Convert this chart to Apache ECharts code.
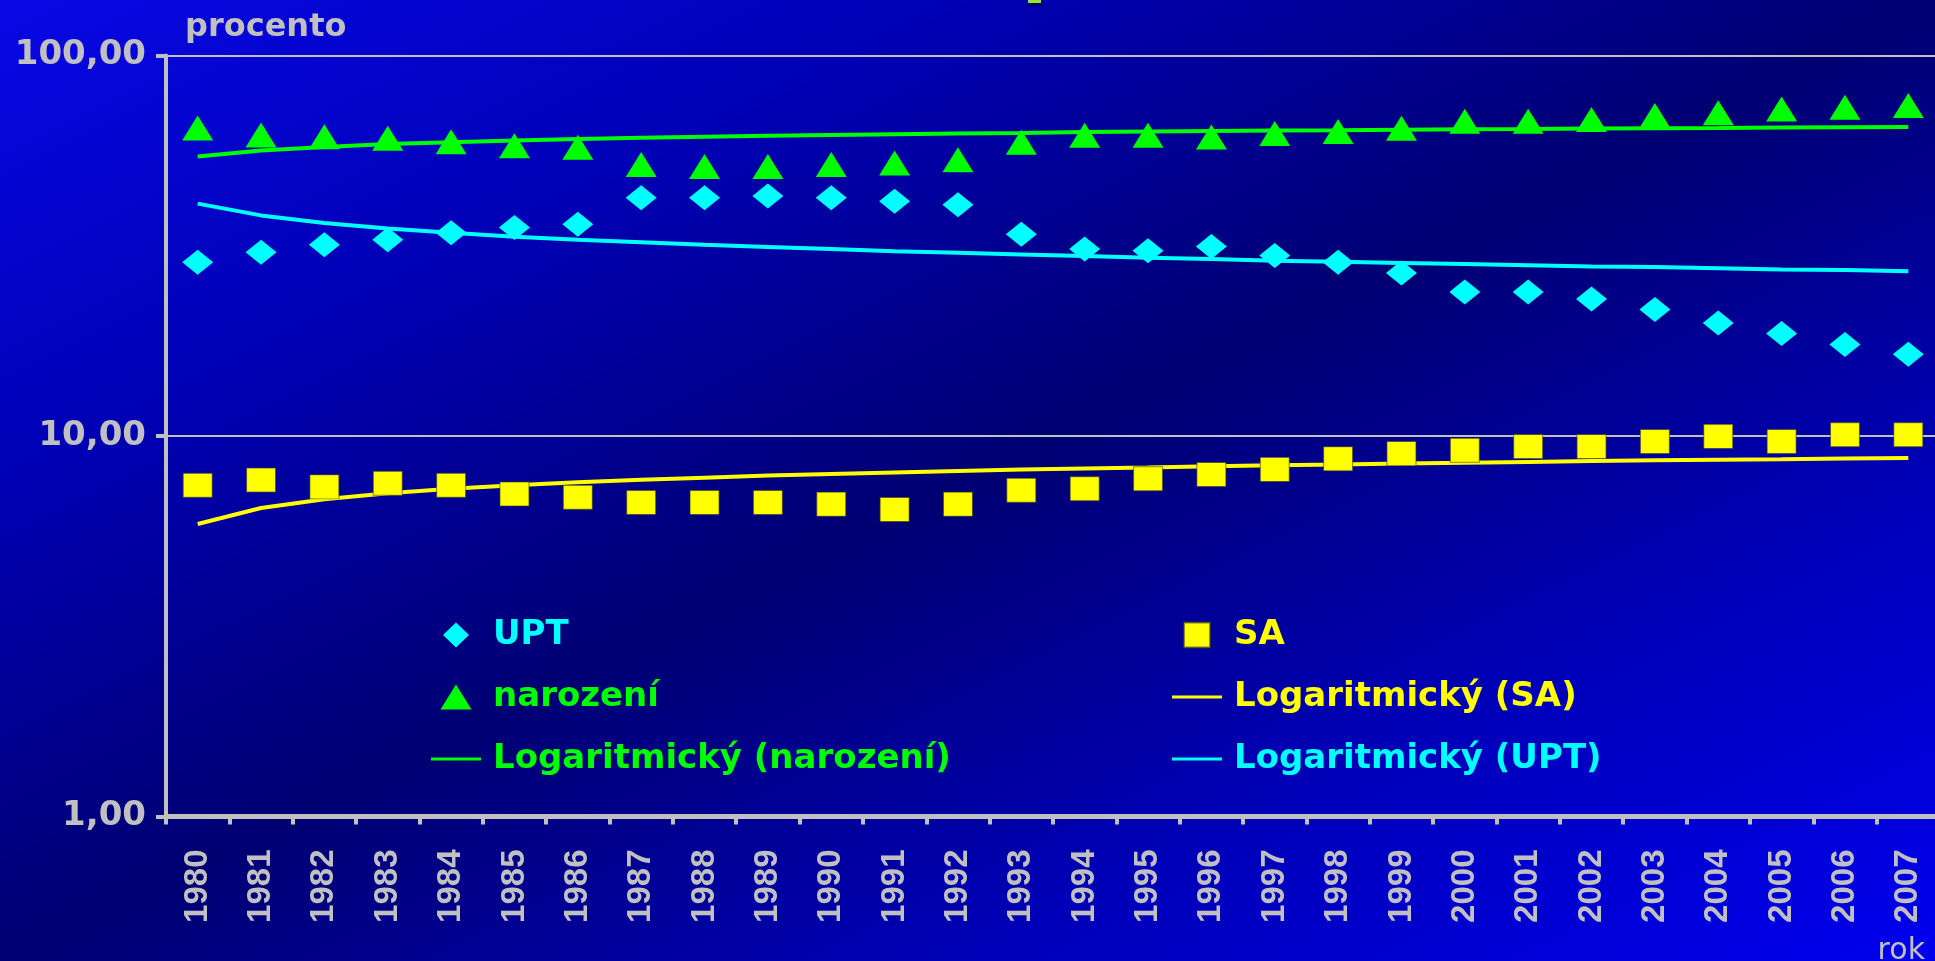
<!DOCTYPE html>
<html>
<head>
<meta charset="utf-8">
<script src="https://cdn.jsdelivr.net/npm/echarts@6/dist/echarts.min.js"></script>
<style>
  html, body { margin: 0; padding: 0; }
  #chart { width: 1935px; height: 961px; }
</style>
</head>
<body>
<div id="chart"></div>
<script>
const years = ['1980', '1981', '1982', '1983', '1984', '1985', '1986', '1987', '1988', '1989',
  '1990', '1991', '1992', '1993', '1994', '1995', '1996', '1997', '1998', '1999',
  '2000', '2001', '2002', '2003', '2004', '2005', '2006', '2007'];

const upt = [28.6, 30.4, 31.8, 32.8, 34.2, 35.3, 36.0, 42.3, 42.3, 42.7, 42.3, 41.4, 40.5, 33.9,
  31.0, 30.7, 31.5, 29.8, 28.6, 26.8, 23.9, 23.9, 22.9, 21.5, 19.8, 18.6, 17.4, 16.4];
const sa = [7.42, 7.66, 7.35, 7.51, 7.42, 7.04, 6.90, 6.69, 6.69, 6.69, 6.62, 6.41, 6.62, 7.20,
  7.27, 7.72, 7.92, 8.17, 8.71, 8.99, 9.17, 9.38, 9.38, 9.67, 9.98, 9.67, 10.08, 10.08];
const narozeni = [64.5, 61.8, 61.2, 60.6, 59.3, 57.9, 57.4, 51.7, 51.1, 51.1, 51.7, 52.2, 53.2, 59.2,
  61.7, 61.7, 61.1, 62.4, 63.1, 64.4, 67.2, 67.2, 67.9, 69.5, 70.7, 72.3, 73.1, 73.9];

// trend lines
const trendNarozeni = [54.3, 56.3, 57.5, 58.5, 59.2, 59.8, 60.3, 60.8, 61.2, 61.5, 61.8, 62.1, 62.4, 62.6,
  62.9, 63.1, 63.3, 63.5, 63.6, 63.8, 64.0, 64.1, 64.3, 64.4, 64.5, 64.7, 64.8, 64.9];
const trendUpt = [40.8, 38.0, 36.3, 35.1, 34.2, 33.4, 32.8, 32.3, 31.8, 31.4, 31.0, 30.6, 30.3, 30.0,
  29.7, 29.4, 29.2, 28.9, 28.7, 28.5, 28.3, 28.1, 27.9, 27.8, 27.6, 27.4, 27.3, 27.1];
const trendSa = [5.87, 6.47, 6.82, 7.07, 7.27, 7.42, 7.56, 7.67, 7.77, 7.87, 7.95, 8.02, 8.09, 8.16,
  8.22, 8.27, 8.33, 8.38, 8.42, 8.47, 8.51, 8.55, 8.59, 8.63, 8.66, 8.69, 8.73, 8.76];

const yTickLabels = ['1,00', '10,00', '100,00'];

const GREY = '#c0c0c0';
const CYAN = '#00ffff';
const GREEN = '#00ff00';
const YELLOW = '#ffff00';
const BOLD_FONT = 'DejaVu Sans';

// legend icons
const ICON_LINE = 'path://M0,0 H50 V3 H0 Z';
const ICON_DIAMOND = 'path://M13,0 L26,12.5 L13,25 L0,12.5 Z';
const ICON_TRIANGLE = 'path://M15.5,0 L31,25 L0,25 Z';
const ICON_SQUARE = 'path://M0,0 H24 V23 H0 Z';

const chart = echarts.init(document.getElementById('chart'));

const legendText = (color) => ({
  color,
  fontFamily: BOLD_FONT,
  fontWeight: 'bold',
  fontSize: 34,
  lineHeight: 34,
  padding: [0, 0, 0, 7],
});

const legendItem = (name, icon, color) => ({ name, icon, textStyle: legendText(color) });

const legendBase = {
  orient: 'vertical',
  top: 613,
  itemWidth: 50,
  itemHeight: 25,
  itemGap: 28,
  symbolKeepAspect: true,
  selectedMode: false,
};

chart.setOption({
  animation: false,
  backgroundColor: new echarts.graphic.LinearGradient(0, 0, 0.396, 1.604, [
    { offset: 0, color: '#0808e6' },
    { offset: 0.25, color: '#0000b4' },
    { offset: 0.5, color: '#000072' },
    { offset: 0.75, color: '#0000b8' },
    { offset: 1, color: '#0000ee' },
  ]),
  grid: {
    left: 166, right: -5, top: 55.5, bottom: 144.5,
    containLabel: false,
    outerBoundsMode: 'none',
  },
  legend: [
    {
      ...legendBase,
      left: 426,
      data: [
        legendItem('UPT', ICON_DIAMOND, CYAN),
        legendItem('narození', ICON_TRIANGLE, GREEN),
        legendItem('Logaritmický (narození)', ICON_LINE, GREEN),
      ],
    },
    {
      ...legendBase,
      left: 1167,
      data: [
        legendItem('SA', ICON_SQUARE, YELLOW),
        legendItem('Logaritmický (SA)', ICON_LINE, YELLOW),
        legendItem('Logaritmický (UPT)', ICON_LINE, CYAN),
      ],
    },
  ],
  xAxis: {
    type: 'category',
    data: years,
    boundaryGap: true,
    axisLine: { lineStyle: { color: GREY, width: 5 } },
    axisTick: { show: true, length: 8, lineStyle: { color: GREY, width: 4 } },
    axisLabel: {
      interval: 0,
      rotate: 90,
      margin: 33,
      color: GREY,
      fontFamily: 'Liberation Sans',
      fontWeight: 'bold',
      fontSize: 33,
    },
  },
  yAxis: {
    type: 'log',
    logBase: 10,
    min: 1,
    max: 100,
    axisLine: { show: true, lineStyle: { color: GREY, width: 4 } },
    axisTick: { show: true, length: 10, lineStyle: { color: GREY, width: 4 } },
    splitLine: { show: true, lineStyle: { color: GREY, width: 2 } },
    axisLabel: {
      margin: 20,
      color: GREY,
      fontFamily: BOLD_FONT,
      fontWeight: 'bold',
      fontSize: 34,
      formatter: (v) => yTickLabels[Math.round(Math.log10(v))] || '',
    },
    name: 'procento',
    nameLocation: 'end',
    nameGap: 12,
    nameTextStyle: {
      color: GREY,
      fontFamily: BOLD_FONT,
      fontWeight: 'bold',
      fontSize: 32,
      align: 'left',
      padding: [0, 0, 0, 19],
    },
  },
  series: [
    {
      name: 'Logaritmický (narození)', type: 'line', data: trendNarozeni,
      symbol: 'none', lineStyle: { color: GREEN, width: 4 }, itemStyle: { color: GREEN }, z: 2,
    },
    {
      name: 'Logaritmický (UPT)', type: 'line', data: trendUpt,
      symbol: 'none', lineStyle: { color: CYAN, width: 4 }, itemStyle: { color: CYAN }, z: 2,
    },
    {
      name: 'Logaritmický (SA)', type: 'line', data: trendSa,
      symbol: 'none', lineStyle: { color: YELLOW, width: 4 }, itemStyle: { color: YELLOW }, z: 2,
    },
    {
      name: 'narození', type: 'scatter', data: narozeni,
      symbol: 'triangle', symbolSize: [31, 25], itemStyle: { color: GREEN, opacity: 1 }, z: 3,
    },
    {
      name: 'UPT', type: 'scatter', data: upt,
      symbol: 'diamond', symbolSize: [31, 25], itemStyle: { color: CYAN, opacity: 1 }, z: 3,
    },
    {
      name: 'SA', type: 'scatter', data: sa,
      symbol: 'rect', symbolSize: [29, 24],
      itemStyle: { color: YELLOW, opacity: 1, borderColor: 'rgba(60,60,40,0.6)', borderWidth: 1 }, z: 3,
    },
  ],
  graphic: [
    // x axis name, sits in the bottom right corner
    {
      type: 'text', right: 10, top: 936, z: 10,
      style: { text: 'rok', fill: GREY, font: '30px "DejaVu Sans"' },
    },
    // cut-off bit of the slide title at the top edge
    {
      type: 'rect', left: 1028, top: 0, z: 10,
      shape: { width: 13, height: 3 },
      style: { fill: '#99e632', shadowBlur: 3, shadowColor: 'rgba(0,0,0,0.6)', shadowOffsetX: 2, shadowOffsetY: 2 },
    },
  ],
});
</script>
</body>
</html>
